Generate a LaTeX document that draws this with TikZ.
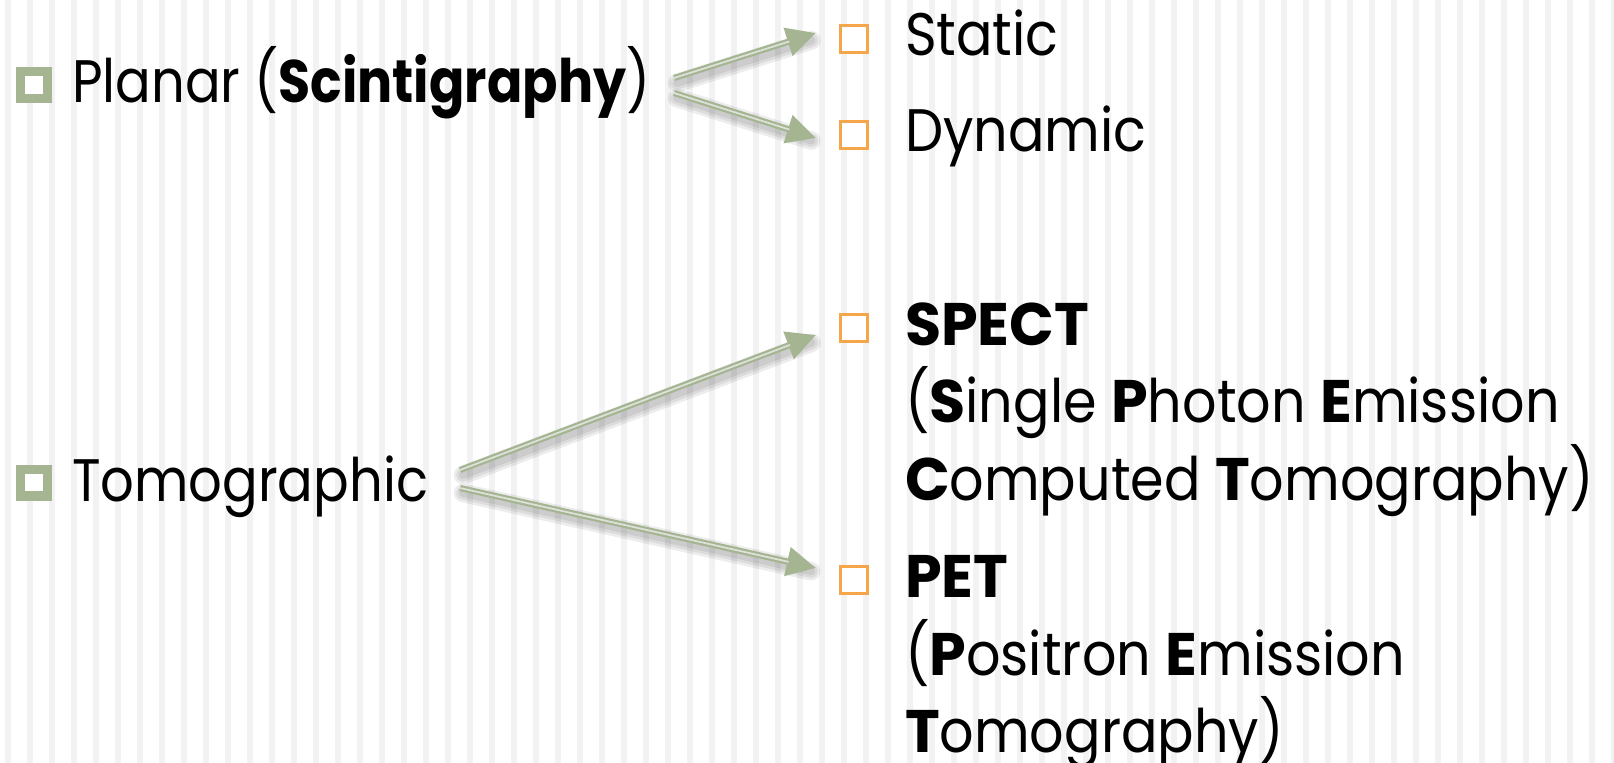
\documentclass[tikz,border=0pt]{standalone}
\usepackage{fontspec}
\setmainfont{Poppins}[FakeStretch=0.9, BoldFeatures={FakeStretch=0.98}]
\newfontfamily\tightfont{Poppins}[FakeStretch=0.88, BoldFeatures={FakeStretch=0.87}]
\usetikzlibrary{arrows.meta}
\definecolor{sage}{RGB}{165,181,146}
\definecolor{tangerine}{RGB}{246,166,74}
\definecolor{stripe}{RGB}{242,242,242}
\definecolor{shaftcore}{RGB}{222,224,218}
\tikzset{
  every node/.style={inner sep=0pt, outer sep=0pt, font=\fontsize{45}{57}\selectfont},
  txt/.style={anchor=base west},
  toptxt/.style={anchor=base west, font=\fontsize{45}{57}\selectfont\tightfont},
  gbullet/.style={draw=sage, line width=7.1pt, minimum size=19.9pt, fill=white},
  obullet/.style={draw=tangerine, line width=2.6pt, minimum size=20.6pt, fill=white},
  shaft/.style={draw=sage, line width=4.6pt, -{Triangle[length=22pt,width=21pt]}},
  core/.style={draw=shaftcore, line width=1.3pt, shorten >=21pt},
  shade/.style={draw=black, line width=#1, opacity=0.07, shorten >=6pt, line cap=round},
}
\begin{document}
\begin{tikzpicture}[x=0.75pt, y=-0.75pt]
  % canvas and vertical pinstripes
  \useasboundingbox (0,0) rectangle (1614,763);
  \fill[white] (0,0) rectangle (1614,763);
  \foreach \i in {0,...,73} \fill[stripe] (5+22*\i,0) rectangle ++(5.5,763);

  % first-level items
  \node[gbullet] (b1) at (34,85) {};
  \node[toptxt] (planar) at (72,103) {Planar (\textbf{Scintigraphy})};
  \node[gbullet] (b2) at (34,482.5) {};
  \node[toptxt] (tomo) at (72,501) {Tomographic};

  % second-level items
  \node[obullet] (o1) at (854,39) {};
  \node[txt] (static) at (905,56) {Static};
  \node[obullet] (o2) at (854,135) {};
  \node[txt] (dynamic) at (905,152) {Dynamic};

  \node[obullet] (o3) at (854,328) {};
  \node[txt] (spect) at (905,345) {\textbf{SPECT}};
  \node[txt] (spect2) at (905,422) {(\textbf{S}ingle \textbf{P}hoton \textbf{E}mission};
  \node[txt] (spect3) at (905,500) {\textbf{C}omputed \textbf{T}omography)};

  \node[obullet] (o4) at (854,580) {};
  \node[txt] (pet) at (905,597) {\textbf{PET}};
  \node[txt] (pet2) at (905,675) {(\textbf{P}ositron \textbf{E}mission};
  \node[txt] (pet3) at (905,752) {\textbf{T}omography)};

  % connector end points
  \coordinate (p1) at (674,78);  \coordinate (t1) at (816,33);
  \coordinate (p2) at (674,93);  \coordinate (t2) at (816,138);
  \coordinate (q1) at (460,470); \coordinate (u1) at (816,335);
  \coordinate (q2) at (460,488); \coordinate (u2) at (816,568);

  % soft drop shadows under the arrows
  \foreach \a/\b in {p1/t1,p2/t2,q1/u1,q2/u2} {
    \foreach \w in {14pt,10pt,6pt} {
      \draw[shade=\w] ([shift={(3,5)}]\a) -- ([shift={(3,5)}]\b);
    }
  }

  % double-stroke arrows
  \foreach \a/\b in {p1/t1,p2/t2,q1/u1,q2/u2} {
    \draw[shaft] (\a) -- (\b);
    \draw[core] (\a) -- (\b);
  }
\end{tikzpicture}
\end{document}
